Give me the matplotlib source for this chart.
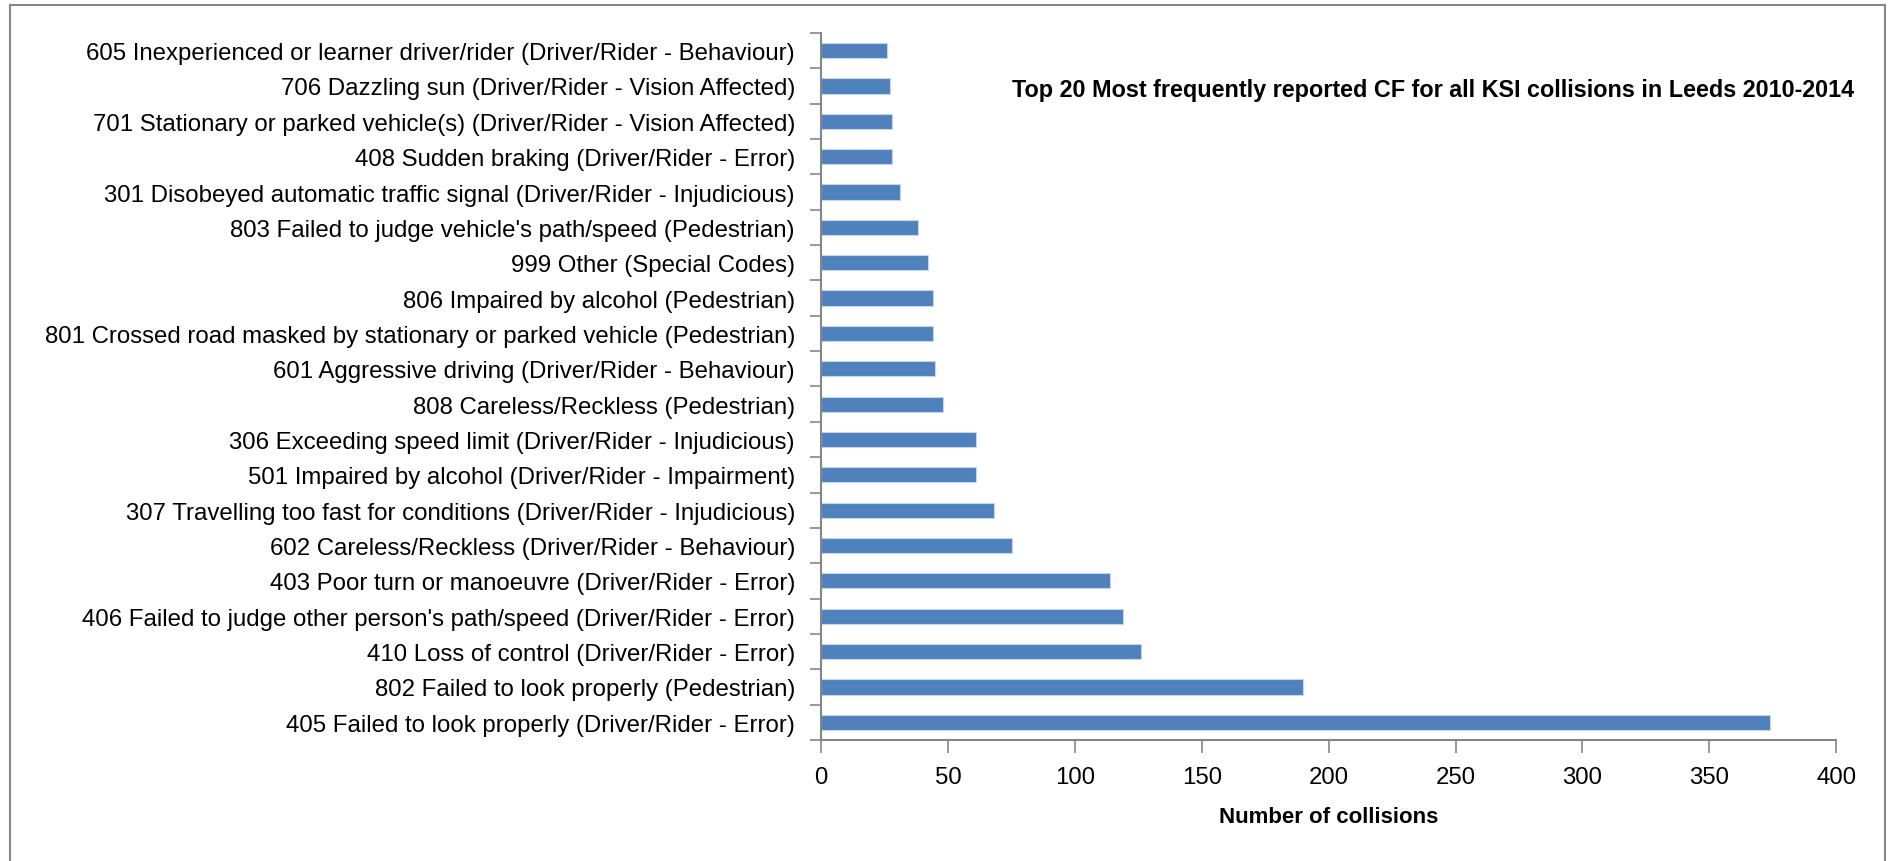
import matplotlib.pyplot as plt
from matplotlib.patches import Rectangle
from matplotlib.ticker import MultipleLocator
import numpy as np

plt.rcParams['font.family'] = ['Liberation Sans', 'DejaVu Sans']

factors = [
    "405 Failed to look properly (Driver/Rider - Error)",
    "802 Failed to look properly (Pedestrian)",
    "410 Loss of control (Driver/Rider - Error)",
    "406 Failed to judge other person's path/speed (Driver/Rider - Error)",
    "403 Poor turn or manoeuvre (Driver/Rider - Error)",
    "602 Careless/Reckless (Driver/Rider - Behaviour)",
    "307 Travelling too fast for conditions (Driver/Rider - Injudicious)",
    "501 Impaired by alcohol (Driver/Rider - Impairment)",
    "306 Exceeding speed limit (Driver/Rider - Injudicious)",
    "808 Careless/Reckless (Pedestrian)",
    "601 Aggressive driving (Driver/Rider - Behaviour)",
    "801 Crossed road masked by stationary or parked vehicle (Pedestrian)",
    "806 Impaired by alcohol (Pedestrian)",
    "999 Other (Special Codes)",
    "803 Failed to judge vehicle's path/speed (Pedestrian)",
    "301 Disobeyed automatic traffic signal (Driver/Rider - Injudicious)",
    "408 Sudden braking (Driver/Rider - Error)",
    "701 Stationary or parked vehicle(s) (Driver/Rider - Vision Affected)",
    "706 Dazzling sun (Driver/Rider - Vision Affected)",
    "605 Inexperienced or learner driver/rider (Driver/Rider - Behaviour)",
]
collisions = [374, 190, 126, 119, 114, 75, 68, 61, 61, 48,
              45, 44, 44, 42, 38, 31, 28, 28, 27, 26]

title = "Top 20 Most frequently reported CF for all KSI collisions in Leeds 2010-2014"
xlabel = "Number of collisions"

fig = plt.figure(figsize=(18.88, 8.62), dpi=100)
ax = fig.add_axes([0.435, 0.1404, 0.5375, 0.8202])

y = np.arange(len(factors))
ax.barh(y, collisions, height=0.43, color='#4F81BD', edgecolor='#C6D6EA', linewidth=0.8)

ax.set_xlim(0, 400)
ax.set_ylim(-0.5, len(factors) - 0.5)
ax.xaxis.set_major_locator(MultipleLocator(50))
ax.set_yticks(y)
ax.set_yticklabels(factors, fontsize=17.3)
ax.set_yticks(np.arange(len(factors) + 1) - 0.5, minor=True)
ax.tick_params(axis='y', which='major', length=0, pad=19)
ax.tick_params(axis='y', which='minor', length=8, width=1.2, color='#868686')
ax.tick_params(axis='x', length=9, width=1.2, color='#868686', labelsize=17.3, pad=10)

for side in ('top', 'right'):
    ax.spines[side].set_visible(False)
for side in ('left', 'bottom'):
    ax.spines[side].set_color('#868686')
    ax.spines[side].set_linewidth(1.5)

ax.set_xlabel(xlabel, fontsize=16, fontweight='bold', labelpad=13)
fig.text(1854 / 1888, 1 - 90 / 862, title, fontsize=16.8, fontweight='bold',
         ha='right', va='center')

# outer chart border (bottom edge falls outside the picture)
fig.patches.append(Rectangle((10 / 1888, -0.1), 1875 / 1888, 1.1 - 6 / 862,
                             transform=fig.transFigure, fill=False,
                             edgecolor='#868686', linewidth=1.5))

fig.savefig('out.png', dpi=100)
